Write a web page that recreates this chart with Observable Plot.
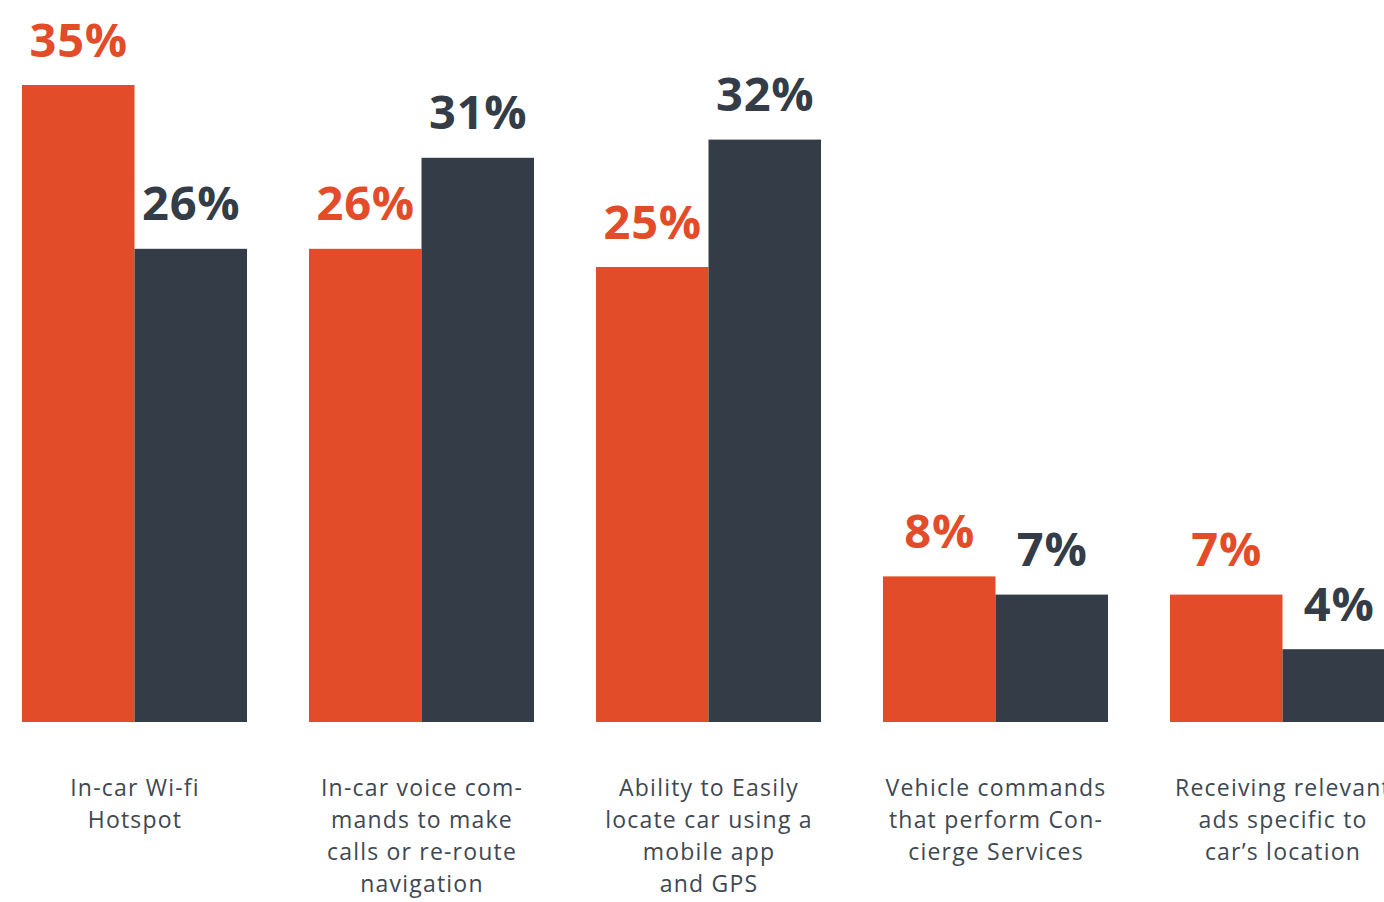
<!DOCTYPE html>
<html>
<head>
<meta charset="utf-8">
<script src="https://cdn.jsdelivr.net/npm/d3@7"></script>
<script src="https://cdn.jsdelivr.net/npm/@observablehq/plot@0.6"></script>
<style>
  html, body { margin: 0; padding: 0; background: #ffffff; overflow: hidden; }
  #chart svg { display: block; font-variant-ligatures: none; }
  #chart svg g[aria-label="x-axis tick label"] text { letter-spacing: 1.2px; }
  #chart svg .num text { letter-spacing: 0.8px; }
</style>
</head>
<body>
<div id="chart"></div>
<script>
// Categories (tick labels with line breaks as in the source)
const categories = [
  "In-car Wi-fi\nHotspot",
  "In-car voice com-\nmands to make\ncalls or re-route\nnavigation",
  "Ability to Easily\nlocate car using a\nmobile app\nand GPS",
  "Vehicle commands\nthat perform Con-\ncierge Services",
  "Receiving relevant\nads specific to\ncar’s location"
];
// Series values (percent)
const seriesOrange = [35, 26, 25, 8, 7];
const seriesDark   = [26, 31, 32, 7, 4];

const ORANGE = "#E34C28";
const DARK = "#333C47";
const TEXT = "#3E4852";

const data = categories.map((c, i) => ({cat: c, a: seriesOrange[i], b: seriesDark[i]}));

const W = 1384, H = 902;
const x0 = 21, x1 = 1396;
const padInner = 0.2174;
const step = (x1 - x0) / (categories.length - padInner);
const bw = step * (1 - padInner);
const half = bw / 2;

const numFont = "'Open Sans', sans-serif";
const catFont = "'Open Sans', sans-serif";

const chart = Plot.plot({
  width: W,
  height: H,
  marginTop: 0,
  marginLeft: 0,
  marginRight: 0,
  marginBottom: H - 722,
  style: {fontFamily: catFont, background: "#ffffff"},
  x: {type: "band", domain: categories, range: [x0, x1], paddingInner: padInner, paddingOuter: 0, align: 0.5, axis: null},
  y: {domain: [0, 35], range: [722, 85], axis: null},
  marks: [
    Plot.barY(data, {x: "cat", y: "a", fill: ORANGE, insetRight: half, insetLeft: 0}),
    Plot.barY(data, {x: "cat", y: "b", fill: DARK, insetLeft: half, insetRight: 0}),
    Plot.text(data, {x: "cat", y: "a", text: d => d.a + "%", dx: -half / 2, dy: -29, className: "num",
      lineAnchor: "bottom", fill: ORANGE, fontSize: 47, fontWeight: 700, fontFamily: numFont}),
    Plot.text(data, {x: "cat", y: "b", text: d => d.b + "%", dx: half / 2, dy: -29, className: "num",
      lineAnchor: "bottom", fill: DARK, fontSize: 47, fontWeight: 700, fontFamily: numFont}),
    Plot.axisX({anchor: "bottom", tickSize: 0, tickPadding: 51, fontSize: 23, lineHeight: 32 / 23,
      fill: TEXT, fontFamily: catFont, label: null})
  ]
});
document.getElementById("chart").appendChild(chart);
</script>
</body>
</html>
